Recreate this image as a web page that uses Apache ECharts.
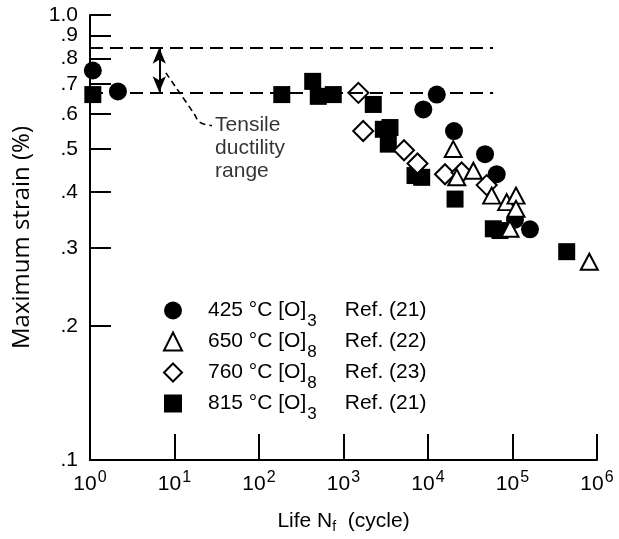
<!DOCTYPE html>
<html><head><meta charset="utf-8">
<script src="https://cdn.jsdelivr.net/npm/echarts@6/dist/echarts.min.js"></script>
<style>html,body{margin:0;padding:0;background:#fff}#c{width:619px;height:539px}</style>
</head><body><div id="c"></div>
<script>
// ---- data ----
const temps = ['425 °C', '650 °C', '760 °C', '815 °C'];
const subs = ['3', '8', '8', '3'];
const refs = ['Ref. (21)', 'Ref. (22)', 'Ref. (23)', 'Ref. (21)'];
const names = temps.map((t, i) => t + ' [O]' + subs[i] + ' ' + refs[i]);

const c425Life = [1.08, 2.14, 12700, 8800, 20300, 47300, 65000, 107000, 161000];
const c425Strain = [0.751, 0.674, 0.663, 0.614, 0.549, 0.487, 0.439, 0.347, 0.330];

const t650Life = [19900, 21900, 34400, 56700, 85300, 110000, 110000, 93400, 811000];
const t650Strain = [0.500, 0.432, 0.447, 0.393, 0.380, 0.393, 0.367, 0.331, 0.279];

const d760Life = [1500, 1710, 5200, 7510, 15900, 25000, 49500];
const d760Strain = [0.669, 0.549, 0.497, 0.464, 0.439, 0.443, 0.415];

const s815Life = [1.08, 186, 432, 503, 757, 2250, 2960, 3550, 3390, 7020, 8420, 20900, 59300, 71100, 438000];
const s815Strain = [0.663, 0.663, 0.710, 0.657, 0.663, 0.630, 0.554, 0.559, 0.513, 0.436, 0.432, 0.386, 0.331, 0.328, 0.294];

const xTickValues = [1, 10, 100, 1000, 10000, 100000, 1000000];
const yLabelValues = [0.1, 0.2, 0.3, 0.4, 0.5, 0.6, 0.7, 0.8, 0.9, 1.0];
const yTickValues = [0.2, 0.3, 0.4, 0.5, 0.6, 0.7, 0.8, 0.9, 1.0];
// an empty guard label just above 1.0 so the min/max overlap check does not drop "1.0" or ".9"
const yLabelGuard = 1.0005;

// tensile ductility range (annotation)
const ductilityUpper = 0.845;
const ductilityLower = 0.671;
const ductilityLineEnd = [1, 59000];
const arrowLife = 6.6;
const leaderLife = [7.9, 17.0, 20.0, 27.8];
const leaderStrain = [0.742, 0.601, 0.574, 0.565];
const noteAnchor = [30.2, 0.503];
const noteText = 'Tensile\nductility\nrange';

const zip = (a, b) => a.map((v, i) => [v, b[i]]);
const FONT = '"Liberation Sans", Arial, Helvetica, sans-serif';

const chart = echarts.init(document.getElementById('c'), null, {renderer: 'canvas'});
const marker = {
  circle:  {symbol: 'circle', symbolSize: 18, itemStyle: {color: '#000', opacity: 1}},
  triangle:{symbol: 'triangle', symbolSize: [17, 16], itemStyle: {color: '#fff', borderColor: '#000', borderWidth: 2, opacity: 1}},
  diamond: {symbol: 'diamond', symbolSize: [20, 20], itemStyle: {color: '#fff', borderColor: '#000', borderWidth: 2, opacity: 1}},
  square:  {symbol: 'rect', symbolSize: 17, itemStyle: {color: '#000', opacity: 1}}
};

const option = {
  animation: false,
  backgroundColor: '#fff',
  textStyle: {fontFamily: FONT, color: '#000'},
  grid: {left: 90, right: 22, top: 15, bottom: 76},
  legend: {
    data: names,
    orient: 'vertical',
    left: 158, top: 295,
    itemWidth: 18, itemHeight: 18,
    itemGap: 1,
    selectedMode: false,
    formatter: function (name) {
      const i = names.indexOf(name);
      return temps[i] + ' [O]{sub|' + subs[i] + '}' + refs[i];
    },
    textStyle: {
      fontFamily: FONT, fontSize: 21, color: '#000', padding: [0, 0, 0, 21],
      rich: {sub: {fontFamily: FONT, fontSize: 17, color: '#000', padding: [22, 28, 0, 1]}}
    }
  },
  xAxis: {
    type: 'log', logBase: 10, min: 1, max: 1e6, splitNumber: 6,
    name: 'Life N{sub|f}  (cycle)',
    nameLocation: 'middle', nameGap: 48,
    nameTextStyle: {fontFamily: FONT, fontSize: 21, color: '#000',
      rich: {sub: {fontFamily: FONT, fontSize: 14, color: '#000', padding: [12, 0, 0, 0]}}},
    axisLine: {show: true, lineStyle: {color: '#000', width: 2}},
    axisTick: {show: true, inside: true, length: 26, lineStyle: {color: '#000', width: 2}, customValues: xTickValues},
    axisLabel: {
      customValues: xTickValues,
      margin: 10, color: '#000', fontFamily: FONT, fontSize: 21,
      formatter: v => '10{sup|' + Math.round(Math.log10(v)) + '}',
      rich: {sup: {fontFamily: FONT, fontSize: 16, color: '#000', padding: [0, 0, 13, 1]}}
    },
    splitLine: {show: false},
    minorTick: {show: false}
  },
  yAxis: {
    type: 'log', logBase: 10, min: 0.1, max: 1.001,
    name: 'Maximum strain (%)',
    nameLocation: 'middle', nameGap: 56, nameRotate: 90,
    nameTextStyle: {fontFamily: '"Open Sans", ' + FONT, fontSize: 24, color: '#000'},
    axisLine: {show: true, lineStyle: {color: '#000', width: 2}},
    axisTick: {show: true, inside: true, length: 21, lineStyle: {color: '#000', width: 2}, customValues: yTickValues},
    axisLabel: {
      customValues: yLabelValues.concat([yLabelGuard]),
      hideOverlap: false,
      margin: 12, color: '#000', fontFamily: FONT, fontSize: 21, lineHeight: 14,
      formatter: v => (v > 1.0002 ? '' : v >= 0.95 ? '1.0' : (+v).toFixed(1).replace(/^0/, ''))
    },
    splitLine: {show: false}
  },
  series: [
    {
      name: 'leader', type: 'line', data: zip(leaderLife, leaderStrain),
      symbol: 'none', smooth: 0.4, silent: true,
      lineStyle: {color: '#000', width: 1.6, type: [6, 4]}, z: 1
    },
    {
      name: 'note', type: 'scatter', data: [noteAnchor], symbolSize: 0, silent: true,
      label: {show: true, position: 'right', distance: 0, align: 'left',
        formatter: noteText, fontFamily: FONT, fontSize: 21, lineHeight: 23, color: '#000'},
      markLine: {
        silent: true, symbol: ['none', 'none'], label: {show: false},
        lineStyle: {color: '#000', width: 2, type: [13, 7]},
        data: [
          [{coord: [ductilityLineEnd[0], ductilityUpper]}, {coord: [ductilityLineEnd[1], ductilityUpper]}],
          [{coord: [ductilityLineEnd[0], ductilityLower]}, {coord: [ductilityLineEnd[1], ductilityLower]}],
          [{coord: [arrowLife, ductilityUpper], symbol: 'arrow', symbolSize: [10, 16], lineStyle: {type: 'solid', width: 2}},
           {coord: [arrowLife, ductilityLower], symbol: 'arrow', symbolSize: [10, 16]}]
        ]
      },
      z: 1
    },
    Object.assign({name: names[3], type: 'scatter', data: zip(s815Life, s815Strain), z: 2}, marker.square),
    Object.assign({name: names[0], type: 'scatter', data: zip(c425Life, c425Strain), z: 3}, marker.circle),
    Object.assign({name: names[2], type: 'scatter', data: zip(d760Life, d760Strain), z: 4}, marker.diamond),
    Object.assign({name: names[1], type: 'scatter', data: zip(t650Life, t650Strain), z: 5}, marker.triangle)
  ]
};
chart.setOption(option);
</script>
</body></html>
